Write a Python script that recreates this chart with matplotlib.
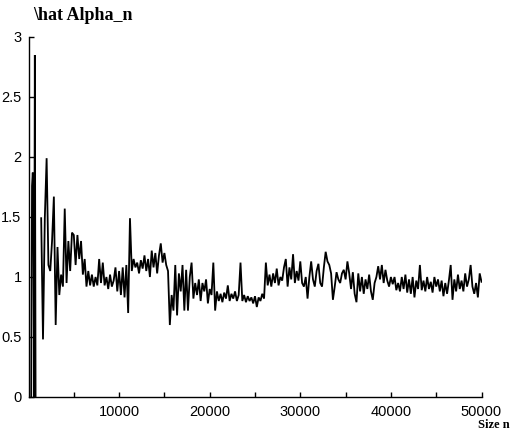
import numpy as np
import matplotlib
matplotlib.use("Agg")
import matplotlib.pyplot as plt

# ---- data -------------------------------------------------------------
# first few (unstable) estimates
sizes_head = [300, 390, 470, 540, 620, 700, 780]
alpha_head = [0.0, 1.76, 1.87, 1.74, 0.0, 2.85, 0.0]

# estimates from n = 1400 to 50000, every 200
size_start, size_stop, size_step = 1400, 50000, 200
alpha_main = [
    1.49, 0.48, 1.49, 1.99, 1.10, 1.05, 1.30, 1.67, 0.60, 1.25,
    0.85, 1.02, 0.92, 1.57, 0.95, 1.30, 1.05, 1.37, 1.35, 1.10,
    1.35, 1.15, 1.30, 1.02, 1.15, 0.92, 1.05, 0.93, 1.02, 0.92,
    1.00, 0.93, 1.15, 0.95, 1.12, 0.93, 1.00, 0.90, 1.02, 0.92,
    0.97, 1.08, 0.88, 1.05, 0.85, 1.08, 0.83, 1.10, 0.70, 1.49,
    1.05, 1.15, 1.08, 1.12, 1.03, 1.14, 1.07, 1.18, 1.05, 1.15,
    1.00, 1.22, 1.08, 1.20, 1.03, 1.18, 1.28, 1.12, 1.20, 1.10,
    1.05, 0.60, 0.85, 0.72, 1.10, 0.68, 1.03, 0.88, 1.10, 0.72,
    1.06, 0.72, 1.00, 1.12, 0.82, 0.95, 0.85, 0.98, 0.80, 0.95,
    0.88, 0.98, 0.78, 0.90, 0.85, 1.12, 0.72, 0.88, 0.80, 0.86,
    0.79, 0.87, 0.82, 0.93, 0.80, 0.86, 0.82, 0.88, 0.80, 0.85,
    1.12, 0.80, 0.85, 0.79, 0.84, 0.80, 0.83, 0.78, 0.84, 0.75,
    0.83, 0.80, 0.86, 0.82, 1.12, 0.93, 1.02, 0.92, 1.03, 0.95,
    1.07, 0.93, 1.00, 0.97, 1.08, 1.15, 0.92, 1.08, 0.98, 1.19,
    0.95, 1.05, 0.97, 1.13, 0.95, 0.92, 1.00, 0.82, 1.00, 1.13,
    0.98, 0.92, 1.05, 1.11, 0.95, 0.92, 1.08, 1.21, 1.13, 1.10,
    1.03, 0.81, 0.92, 1.04, 0.98, 0.95, 1.03, 1.06, 0.98, 1.13,
    1.03, 0.90, 1.04, 0.86, 0.79, 1.03, 0.88, 1.00, 0.86, 0.98,
    0.90, 1.02, 0.88, 0.81, 0.95, 1.00, 1.09, 0.98, 1.10, 0.95,
    1.06, 0.97, 0.92, 1.00, 0.94, 1.00, 0.89, 0.95, 0.88, 1.00,
    0.90, 1.02, 0.87, 0.98, 0.86, 1.00, 0.83, 0.97, 0.90, 1.10,
    0.89, 0.97, 0.88, 1.00, 0.90, 0.96, 0.87, 1.00, 0.92, 0.98,
    0.88, 0.97, 0.84, 0.95, 0.86, 0.97, 1.10, 0.81, 0.98, 0.88,
    1.02, 0.90, 0.97, 0.88, 1.03, 0.92, 0.98, 1.10, 0.92, 0.86,
    0.95, 0.83, 1.03, 0.96,
]
sizes_main = np.arange(size_start, size_stop + 1, size_step)[:len(alpha_main)]

x_major = [10000, 20000, 30000, 40000, 50000]
x_major_labels = ["10000", "20000", "30000", "40000", "50000"]
x_minor = [5000, 15000, 25000, 35000, 45000]
y_ticks = [0, 0.5, 1, 1.5, 2, 2.5, 3]
y_tick_labels = ["0", "0.5", "1", "1.5", "2", "2.5", "3"]

title_text = "\\hat Alpha_n"
xlabel_text = "Size n"

# ---- figure -----------------------------------------------------------
W, H = 511, 434
fig = plt.figure(figsize=(W / 100, H / 100), dpi=100)
ax = fig.add_axes([28.5 / W, 37 / H, 453 / W, 360 / H])

ax.plot(sizes_head, alpha_head, color="black", lw=1.3, solid_joinstyle="miter")
ax.plot(sizes_main, alpha_main, color="black", lw=1.3, solid_joinstyle="miter")

ax.set_xlim(0, 50000)
ax.set_ylim(0, 3)

for s in ("top", "right"):
    ax.spines[s].set_visible(False)
for s in ("left", "bottom"):
    ax.spines[s].set_linewidth(1.0)
    ax.spines[s].set_color("black")

ax.set_xticks(x_major)
ax.set_xticklabels(x_major_labels)
ax.set_xticks(x_minor, minor=True)
ax.set_yticks(y_ticks)
ax.set_yticklabels(y_tick_labels)

for lab in ax.get_xticklabels() + ax.get_yticklabels():
    lab.set_fontfamily("Liberation Sans")
    lab.set_fontsize(10.5)

ax.tick_params(axis="both", which="both", direction="in", length=3.5,
               width=1.0, color="black")
ax.tick_params(axis="x", which="major", pad=5.5)
ax.tick_params(axis="y", which="major", pad=5)

fig.text(33 / W, 1 - 15 / H, title_text, ha="left", va="center",
         fontfamily="Liberation Serif", fontweight="bold", fontsize=13)
fig.text(510 / W, 1 - 425 / H, xlabel_text, ha="right", va="center",
         fontfamily="Liberation Serif", fontweight="bold", fontsize=9)

fig.savefig("out.png", dpi=100)
